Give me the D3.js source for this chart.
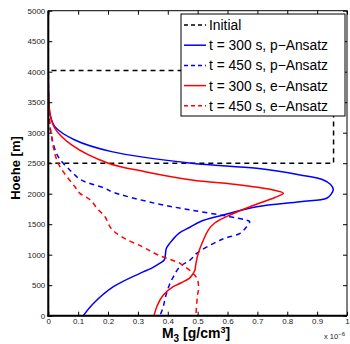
<!DOCTYPE html>
<html><head><meta charset="utf-8">
<script src="https://cdn.jsdelivr.net/npm/d3@7"></script>
<style>body{margin:0;background:#fff}svg{display:block}text{font-family:"Liberation Sans",Arial,sans-serif}</style>
</head><body>
<script>
// heights [m] and M3 values [x 1e-6 g/cm^3]
const initialH = [5000, 4020, 4020, 2500, 2500, 0];
const initialM = [0, 0, 0.955, 0.955, 0, 0];

const p300H = [5000,4000,3500,3300,3100,2880,2690,2500,2416,2307,2225,2150,2072,2000,1925,1869,1787,1651,1541,1450,1351,1190,1100,1000,913,860,777,695,475,200,0];
const p300M = [0,0,0.002,0.006,0.022,0.089,0.212,0.48,0.698,0.843,0.921,0.945,0.954,0.948,0.932,0.843,0.698,0.586,0.508,0.474,0.437,0.407,0.395,0.392,0.388,0.374,0.345,0.307,0.218,0.151,0.117];

const p450H = [5000,4000,3500,3200,2934,2607,2361,2225,2089,2033,1843,1733,1623,1570,1541,1459,1351,1269,1213,1023,913,800,650,500,300,150,0];
const p450M = [0,0,0.001,0.004,0.011,0.033,0.078,0.11,0.19,0.212,0.357,0.477,0.608,0.66,0.674,0.664,0.642,0.59,0.564,0.497,0.475,0.44,0.42,0.405,0.392,0.385,0.374];

const e300H = [5000,4000,3600,3300,3072,2800,2500,2361,2225,2143,2061,2007,1960,1925,1787,1651,1515,1400,1250,1023,850,749,670,613,540,475,339,148,0];
const e300M = [0,0,0.001,0.006,0.022,0.078,0.201,0.324,0.48,0.642,0.753,0.787,0.77,0.753,0.675,0.608,0.556,0.535,0.52,0.502,0.494,0.491,0.482,0.472,0.445,0.418,0.385,0.363,0.354];

const e450H = [5000,4000,3500,3200,2934,2600,2443,2279,2115,2006,1900,1751,1623,1433,1295,1131,995,859,803,695,600,450,311,0];
const e450M = [0,0,0.001,0.004,0.011,0.025,0.039,0.062,0.089,0.106,0.14,0.165,0.19,0.21,0.245,0.315,0.368,0.441,0.458,0.485,0.499,0.503,0.499,0.494];

const xTicks = [0,0.1,0.2,0.3,0.4,0.5,0.6,0.7,0.8,0.9,1];
const yTicks = [0,500,1000,1500,2000,2500,3000,3500,4000,4500,5000];
const legendLabels = ["Initial","t = 300 s, p\u2212Ansatz","t = 450 s, p\u2212Ansatz","t = 300 s, e\u2212Ansatz","t = 450 s, e\u2212Ansatz"];

const W = 350, H = 344;
const svg = d3.select("body").append("svg").attr("width", W).attr("height", H);
const x = d3.scaleLinear().domain([0, 1]).range([48.3, 347]);
const y = d3.scaleLinear().domain([0, 5000]).range([315.7, 10.7]);

const series = [
  {h: initialH, m: initialM, color: "#000", dash: "5,4", curve: d3.curveLinear},
  {h: p300H, m: p300M, color: "#0000ff", dash: null, curve: d3.curveCatmullRom.alpha(0.5)},
  {h: p450H, m: p450M, color: "#0000ff", dash: "5,4", curve: d3.curveCatmullRom.alpha(0.5)},
  {h: e300H, m: e300M, color: "#ff0000", dash: null, curve: d3.curveCatmullRom.alpha(0.5)},
  {h: e450H, m: e450M, color: "#ff0000", dash: "5,4", curve: d3.curveCatmullRom.alpha(0.5)}
];

svg.append("clipPath").attr("id","c").append("rect")
  .attr("x", x(0)).attr("y", y(5000)).attr("width", x(1)-x(0)).attr("height", y(0)-y(5000));

const plot = svg.append("g").attr("clip-path","url(#c)");
series.forEach(s => {
  const pts = s.h.map((hv,i) => [s.m[i], hv]);
  plot.append("path")
    .attr("d", d3.line().x(d => x(d[0])).y(d => y(d[1])).curve(s.curve)(pts))
    .attr("fill","none").attr("stroke", s.color).attr("stroke-width", 1.5)
    .attr("stroke-dasharray", s.dash);
});

// axes
const fs = 8;
const axB = svg.append("g").attr("transform", `translate(0,${y(0)})`)
  .call(d3.axisBottom(x).tickValues(xTicks).tickSize(-4).tickPadding(3).tickFormat(d3.format("")));
const axT = svg.append("g").attr("transform", `translate(0,${y(5000)})`)
  .call(d3.axisTop(x).tickValues(xTicks).tickSize(-4).tickFormat(""));
const axL = svg.append("g").attr("transform", `translate(${x(0)},0)`)
  .call(d3.axisLeft(y).tickValues(yTicks).tickSize(-4).tickPadding(3).tickFormat(d3.format("d")));
const axR = svg.append("g").attr("transform", `translate(${x(1)},0)`)
  .call(d3.axisRight(y).tickValues(yTicks).tickSize(-4).tickFormat(""));
[axB, axT, axL, axR].forEach(a => {
  a.select(".domain").remove();
  a.selectAll("line").attr("stroke","#000").attr("stroke-width",1);
  a.selectAll("text").attr("font-size", fs).attr("fill","#222").style("font-family","Liberation Sans, Arial, sans-serif");
});
svg.append("rect").attr("x", x(0)).attr("y", y(5000)).attr("width", x(1)-x(0)).attr("height", y(0)-y(5000))
  .attr("fill","none").attr("stroke","#000").attr("stroke-width",1);
svg.append("line").attr("x1", x(0)).attr("x2", x(0)).attr("y1", y(5000)).attr("y2", y(0)+1).attr("stroke","#000").attr("stroke-width",2);
svg.append("line").attr("x1", x(0)-1).attr("x2", x(1)).attr("y1", y(0)).attr("y2", y(0)).attr("stroke","#000").attr("stroke-width",2);

// exponent
const ex = svg.append("text").attr("x", 324).attr("y", 339).attr("font-size", 7.5).attr("fill","#222");
ex.append("tspan").text("x 10");
ex.append("tspan").attr("dy", -3).attr("font-size", 6).text("\u22126");

// axis labels
const xl = svg.append("text").attr("x", 196).attr("y", 338).attr("text-anchor","middle")
  .attr("font-size", 14).attr("font-weight","bold").attr("fill","#000");
xl.append("tspan").text("M");
xl.append("tspan").attr("dy", 4).attr("font-size", 10).text("3");
xl.append("tspan").attr("dy", -4).text(" [g/cm");
xl.append("tspan").attr("dy", -5).attr("font-size", 9).text("3");
xl.append("tspan").attr("dy", 5).text("]");

svg.append("text").attr("transform","translate(20,168) rotate(-90)").attr("text-anchor","middle")
  .attr("font-size", 13).attr("font-weight","bold").attr("fill","#000").text("Hoehe [m]");

// legend
const lg = svg.append("g");
lg.append("rect").attr("x", 181).attr("y", 14).attr("width", 164).attr("height", 102)
  .attr("fill","#fff").attr("stroke","#000").attr("stroke-width",1);
legendLabels.forEach((lab, i) => {
  const yy = 25 + i * 20.2;
  lg.append("line").attr("x1", 184).attr("x2", 206).attr("y1", yy).attr("y2", yy)
    .attr("stroke", series[i].color).attr("stroke-width", 1.5).attr("stroke-dasharray", series[i].dash ? "4,3" : null);
  lg.append("text").attr("x", 209).attr("y", yy + 5).attr("font-size", 13.8).attr("fill","#000").text(lab);
});
</script>
</body></html>
